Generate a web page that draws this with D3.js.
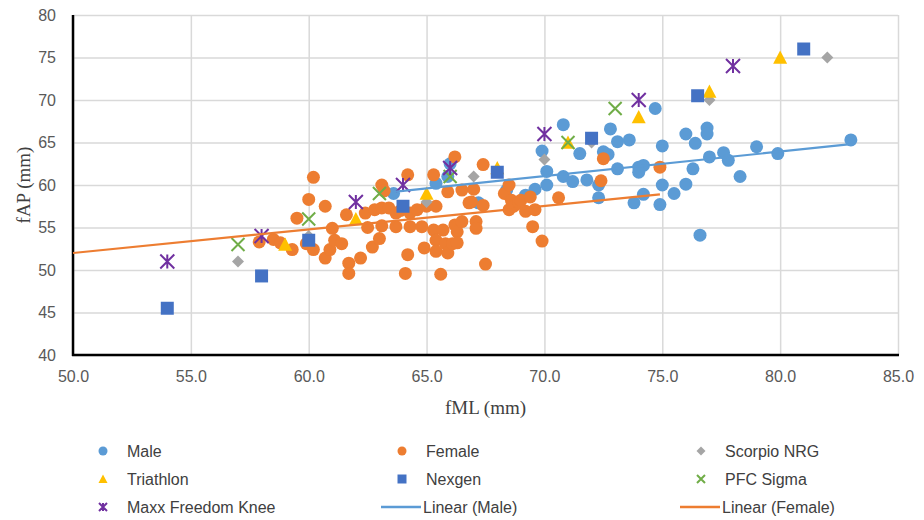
<!DOCTYPE html>
<html>
<head>
<meta charset="utf-8">
<script src="https://cdn.jsdelivr.net/npm/d3@7"></script>
<style>
  body { margin: 0; background: #fff; }
  .tick text { font-family: "Liberation Sans", Arial, sans-serif; font-size: 16px; fill: #595959; }
  .grid line { stroke: #d9d9d9; stroke-width: 1.5; }
  .legend text { font-family: "Liberation Sans", Arial, sans-serif; font-size: 16px; fill: #404040; }
  .title { font-family: "Liberation Serif", "Times New Roman", serif; font-size: 19px; fill: #404040; }
</style>
</head>
<body>
<div id="chart"></div>
<script>
// data: [fML, fAP]
var male = [
  [63.6,59.0],[65.4,60.2],[65.9,61.0],[66.0,62.5],[67.2,57.9],[68.4,59.4],[69.2,58.8],
  [69.6,59.5],[69.9,64.0],[70.1,61.6],[70.1,60.0],[70.8,67.1],[70.8,61.0],[71.2,60.4],
  [71.5,63.7],[71.8,60.6],[72.3,60.0],[72.3,58.5],[72.5,63.9],[72.7,63.6],[72.8,66.6],
  [73.1,65.1],[73.1,61.9],[73.6,65.3],[73.8,57.9],[74.0,62.1],[74.2,62.3],[74.0,61.5],
  [74.2,58.9],[74.7,69.0],[75.0,64.6],[75.0,60.0],[74.9,57.7],[75.5,59.0],[76.0,66.0],
  [76.0,60.1],[76.4,64.9],[76.3,61.9],[76.6,54.1],[76.9,66.7],[76.9,66.0],[77.0,63.3],
  [77.6,63.8],[77.8,62.9],[78.3,61.0],[79.0,64.5],[79.9,63.7],[83.0,65.3]
];
var female = [
  [57.9,53.3],[58.5,53.6],[58.8,53.2],[59.3,52.4],[59.5,56.1],[59.9,53.1],[60.0,58.3],
  [60.2,60.9],[60.2,52.4],[60.7,57.5],[60.7,51.4],[60.9,52.4],[61.0,54.9],[61.1,53.5],
  [61.4,53.1],[61.6,56.5],[61.7,50.8],[61.7,49.6],[62.2,51.4],[62.4,56.7],[62.5,55.0],
  [62.7,52.7],[62.8,57.1],[63.0,53.7],[63.1,55.2],[63.1,57.3],[63.1,60.0],[63.2,59.3],
  [63.4,57.3],[63.7,56.7],[63.7,55.1],[63.9,57.0],[64.2,61.2],[64.2,51.8],[64.1,49.6],
  [64.3,56.7],[64.3,55.1],[64.6,57.1],[64.8,55.1],[64.9,52.6],[65.0,57.5],[65.3,61.2],
  [65.3,54.7],[65.4,57.5],[65.4,53.5],[65.4,52.2],[65.6,49.5],[65.7,54.7],[65.8,53.1],
  [65.9,59.2],[65.9,52.0],[66.1,53.1],[66.2,63.3],[66.2,55.3],[66.3,54.5],[66.3,53.2],
  [66.5,59.4],[66.5,55.7],[66.8,57.9],[66.9,58.0],[67.0,59.5],[67.1,55.7],[67.1,54.9],
  [67.4,62.4],[67.4,57.6],[67.5,50.7],[68.3,59.0],[68.5,60.0],[68.5,57.1],[68.6,58.2],
  [68.7,57.5],[68.9,58.0],[69.0,58.2],[69.2,56.9],[69.4,58.6],[69.5,55.1],[69.6,57.1],
  [69.9,53.4],[70.6,58.5],[72.4,60.5],[72.5,63.1],[74.9,62.1]
];
var scorpio = [[57,51],[60,54],[65,58],[67,61],[70,63],[72,65],[77,70],[82,75]];
var triathlon = [[59,53],[62,56],[65,59],[68,62],[71,65],[74,68],[77,71],[80,75]];
var nexgen = [[54,45.5],[58,49.3],[60,53.5],[64,57.5],[68,61.5],[72,65.5],[76.5,70.5],[81,76]];
var pfcSigma = [[57,53],[60,56],[63,59],[66,61],[71,65],[73,69]];
var maxx = [[54,51],[58,54],[62,58],[64,60],[66,62],[70,66],[74,70],[78,74]];
var maleTrend = [[63.6,59.2],[83.0,64.8]];
var femaleTrend = [[50.0,52.0],[74.9,58.9]];

var xTicks = [50, 55, 60, 65, 70, 75, 80, 85];
var yTicks = [40, 45, 50, 55, 60, 65, 70, 75, 80];

var width = 924, height = 520;
var margin = {left: 73, right: 898, top: 15, bottom: 355};

var svg = d3.select("#chart").append("svg")
    .attr("width", width)
    .attr("height", height);

var x = d3.scaleLinear().domain([50, 85]).range([margin.left, margin.right]);
var y = d3.scaleLinear().domain([40, 80]).range([margin.bottom, margin.top]);

// gridlines
svg.append("g")
    .attr("class", "grid")
    .attr("transform", "translate(0," + margin.bottom + ")")
    .call(d3.axisBottom(x).tickValues(xTicks).tickSize(-(margin.bottom - margin.top)).tickFormat(""))
    .call(function(g) { g.select(".domain").remove(); });
svg.append("g")
    .attr("class", "grid")
    .attr("transform", "translate(" + margin.left + ",0)")
    .call(d3.axisLeft(y).tickValues(yTicks).tickSize(-(margin.right - margin.left)).tickFormat(""))
    .call(function(g) { g.select(".domain").remove(); });

// axes
var xAxis = svg.append("g")
    .attr("transform", "translate(0," + margin.bottom + ")")
    .call(d3.axisBottom(x).tickValues(xTicks).tickSize(0).tickPadding(16).tickFormat(d3.format(".1f")));
xAxis.select(".domain").remove();

var yAxis = svg.append("g")
    .attr("transform", "translate(" + margin.left + ",0)")
    .call(d3.axisLeft(y).tickValues(yTicks).tickSize(0).tickPadding(17));
yAxis.select(".domain").remove();

svg.append("line")
    .attr("x1", margin.left).attr("x2", margin.left)
    .attr("y1", margin.top).attr("y2", margin.bottom + 1)
    .attr("stroke", "#000").attr("stroke-width", 2.5);
svg.append("line")
    .attr("x1", margin.left - 1).attr("x2", margin.right + 1)
    .attr("y1", margin.bottom).attr("y2", margin.bottom)
    .attr("stroke", "#000").attr("stroke-width", 2.5);

// marker shapes
function markerPath(type, s) {
    var h = s / 2;
    if (type === "circle") return d3.symbol().type(d3.symbolCircle).size(Math.PI * h * h)();
    if (type === "square") return "M" + (-h) + "," + (-h) + "h" + s + "v" + s + "h" + (-s) + "Z";
    if (type === "diamond") return "M0," + (-h) + "L" + h + ",0L0," + h + "L" + (-h) + ",0Z";
    if (type === "triangle") return "M0," + (-h) + "L" + h + "," + (h * 0.9) + "L" + (-h) + "," + (h * 0.9) + "Z";
    if (type === "x") return "M" + (-h) + "," + (-h) + "L" + h + "," + h + "M" + h + "," + (-h) + "L" + (-h) + "," + h;
    if (type === "star") return "M" + (-h) + "," + (-h) + "L" + h + "," + h + "M" + h + "," + (-h) + "L" + (-h) + "," + h +
        "M0," + (-h) + "L0," + h;
}

var series = [
    {name: "Male", data: male, type: "circle", color: "#5b9bd5", size: 13},
    {name: "Female", data: female, type: "circle", color: "#ed7d31", size: 13},
    {name: "Scorpio NRG", data: scorpio, type: "diamond", color: "#a5a5a5", size: 12},
    {name: "Triathlon", data: triathlon, type: "triangle", color: "#ffc000", size: 14},
    {name: "Nexgen", data: nexgen, type: "square", color: "#4472c4", size: 13},
    {name: "PFC Sigma", data: pfcSigma, type: "x", color: "#70ad47", size: 13},
    {name: "Maxx Freedom Knee", data: maxx, type: "star", color: "#7030a0", size: 14}
];

function styleMarker(sel, s) {
    if (s.type === "x" || s.type === "star") {
        sel.attr("fill", "none").attr("stroke", s.color).attr("stroke-width", 2);
    } else {
        sel.attr("fill", s.color).attr("stroke", "none");
    }
}

series.forEach(function(s) {
    var pts = svg.append("g").selectAll("path")
        .data(s.data)
        .enter().append("path")
        .attr("d", markerPath(s.type, s.size))
        .attr("transform", function(d) { return "translate(" + x(d[0]) + "," + y(d[1]) + ")"; });
    styleMarker(pts, s);
});

// trendlines
var line = d3.line().x(function(d) { return x(d[0]); }).y(function(d) { return y(d[1]); });
svg.append("path").datum(maleTrend).attr("d", line)
    .attr("fill", "none").attr("stroke", "#5b9bd5").attr("stroke-width", 2.2);
svg.append("path").datum(femaleTrend).attr("d", line)
    .attr("fill", "none").attr("stroke", "#ed7d31").attr("stroke-width", 2.2);

// axis titles
svg.append("text").attr("class", "title")
    .attr("x", (margin.left + margin.right) / 2).attr("y", 414)
    .attr("text-anchor", "middle").text("fML (mm)");
svg.append("text").attr("class", "title")
    .attr("transform", "translate(30,185) rotate(-90)")
    .attr("text-anchor", "middle").text("fAP (mm)");

// legend
var legendItems = [
    {name: "Male", type: "circle", color: "#5b9bd5"},
    {name: "Female", type: "circle", color: "#ed7d31"},
    {name: "Scorpio NRG", type: "diamond", color: "#a5a5a5"},
    {name: "Triathlon", type: "triangle", color: "#ffc000"},
    {name: "Nexgen", type: "square", color: "#4472c4"},
    {name: "PFC Sigma", type: "x", color: "#70ad47"},
    {name: "Maxx Freedom Knee", type: "star", color: "#7030a0"},
    {name: "Linear (Male)", type: "line", color: "#5b9bd5"},
    {name: "Linear (Female)", type: "line", color: "#ed7d31"}
];

var legend = svg.append("g").attr("class", "legend");
legendItems.forEach(function(d, i) {
    var cx = 103 + (i % 3) * 299;
    var cy = 451 + Math.floor(i / 3) * 28;
    var g = legend.append("g");
    if (d.type === "line") {
        g.append("line").attr("x1", cx - 21).attr("x2", cx + 19).attr("y1", cy).attr("y2", cy)
            .attr("stroke", d.color).attr("stroke-width", 2.5);
        g.append("text").attr("x", cx + 21).attr("y", cy + 6).text(d.name);
    } else {
        var m = g.append("path")
            .attr("d", markerPath(d.type, d.type === "x" || d.type === "star" ? 8 : 9))
            .attr("transform", "translate(" + cx + "," + cy + ")");
        styleMarker(m, d);
        g.append("text").attr("x", cx + 24).attr("y", cy + 6).text(d.name);
    }
});
</script>
</body>
</html>
